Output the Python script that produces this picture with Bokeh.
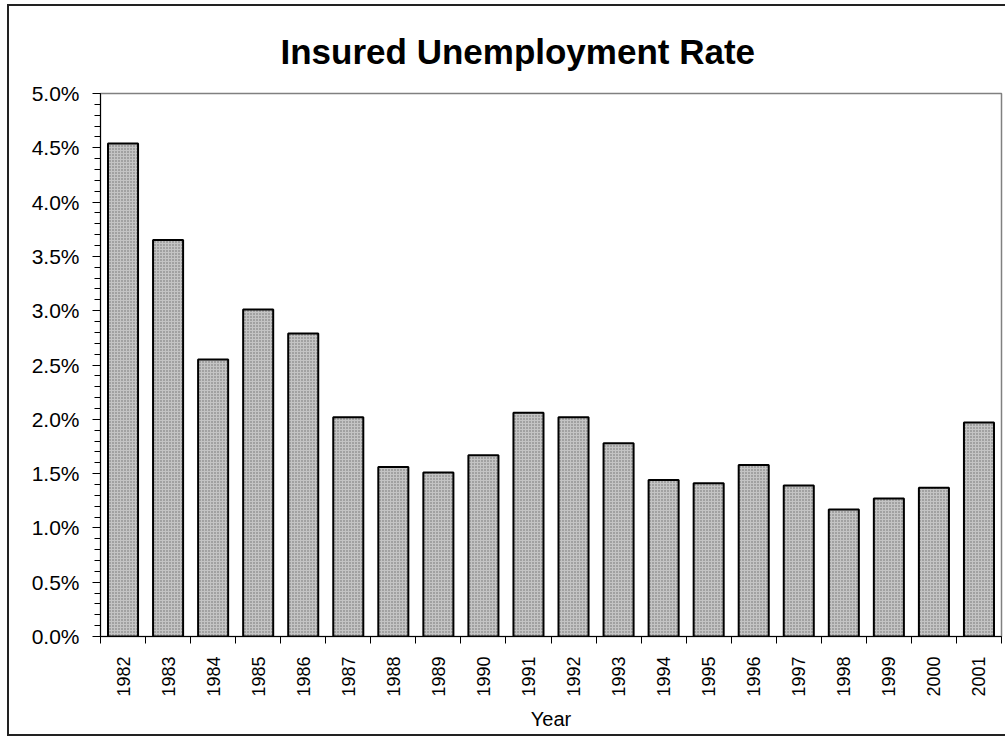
import math
from bokeh.plotting import figure
from bokeh.models import (Range1d, LinearAxis, FixedTicker, SingleIntervalTicker,
                          NumeralTickFormatter, ColumnDataSource)
from bokeh.embed import file_html
from bokeh.resources import INLINE

# ---- data ----
years = ["1982", "1983", "1984", "1985", "1986", "1987", "1988", "1989", "1990", "1991",
         "1992", "1993", "1994", "1995", "1996", "1997", "1998", "1999", "2000", "2001"]
rates_pct = [4.54, 3.65, 2.55, 3.01, 2.79, 2.02, 1.56, 1.51, 1.67, 2.06,
             2.02, 1.78, 1.44, 1.41, 1.58, 1.39, 1.17, 1.27, 1.37, 1.97]
title_text = "Insured Unemployment Rate"
x_label = "Year"

source = ColumnDataSource(data=dict(year=years, rate=[r / 100.0 for r in rates_pct]))

p = figure(x_range=years, y_range=Range1d(0, 0.05),
           width=998, height=732, output_backend="svg", toolbar_location=None,
           x_axis_type=None, y_axis_type=None,
           min_border_left=91, min_border_right=6, min_border_top=87, min_border_bottom=102)
p.background_fill_color = "white"
p.border_fill_color = "white"
p.outline_line_color = "#808080"
p.outline_line_width = 1.5
p.styles = {"margin-left": "7px", "margin-top": "4px",
            "border-left": "2px solid #222", "border-top": "2px solid #222",
            "border-bottom": "2px solid #222", "border-right": "0px none transparent"}

# title
p.title.text = title_text
p.title.text_font = "Liberation Sans"
p.title.text_font_size = "35px"
p.title.text_font_style = "bold"
p.title.text_color = "black"
p.title.align = "left"
p.title.offset = 180
p.title.standoff = 46

# bars
p.vbar(x="year", top="rate", width=0.667, bottom=0, source=source,
       fill_color="#c4c4c4", line_color="black", line_width=2,
       hatch_pattern=".", hatch_color="#6a6a6a", hatch_scale=3, hatch_weight=1)

# y axis
yaxis = LinearAxis(ticker=SingleIntervalTicker(interval=0.005, num_minor_ticks=5),
                   formatter=NumeralTickFormatter(format="0.0%"))
yaxis.major_tick_out = 8
yaxis.major_tick_in = 0
yaxis.minor_tick_out = 6
yaxis.minor_tick_in = 0
yaxis.major_label_standoff = 13
yaxis.major_label_text_font = "Liberation Sans"
yaxis.major_label_text_font_size = "21px"
yaxis.major_label_text_color = "black"
yaxis.axis_line_color = "black"
yaxis.major_tick_line_color = "black"
yaxis.minor_tick_line_color = "black"
p.add_layout(yaxis, "left")

# x axis: labels at bar centres, tick marks between categories
n = len(years)
centres = [i + 0.5 for i in range(n)]
bounds = [float(i) for i in range(n + 1)]
xaxis = LinearAxis(ticker=FixedTicker(ticks=centres, minor_ticks=bounds))
xaxis.major_label_overrides = {c: y for c, y in zip(centres, years)}
xaxis.major_label_orientation = math.pi / 2
xaxis.major_tick_out = 0
xaxis.major_tick_in = 0
xaxis.minor_tick_out = 7
xaxis.minor_tick_in = 0
xaxis.minor_tick_line_color = "black"
xaxis.major_label_standoff = 13
xaxis.major_label_text_font = "Liberation Sans"
xaxis.major_label_text_font_size = "18px"
xaxis.major_label_text_color = "black"
xaxis.axis_line_color = "black"
xaxis.axis_label = x_label
xaxis.axis_label_text_font = "Liberation Sans"
xaxis.axis_label_text_font_size = "20px"
xaxis.axis_label_text_font_style = "normal"
xaxis.axis_label_text_color = "black"
xaxis.axis_label_standoff = 8
p.add_layout(xaxis, "below")

# grid
p.xgrid.visible = False
p.ygrid.grid_line_color = "black"
p.ygrid.grid_line_width = 1
p.ygrid.ticker = yaxis.ticker

open("out.html", "w").write(file_html(p, INLINE))
